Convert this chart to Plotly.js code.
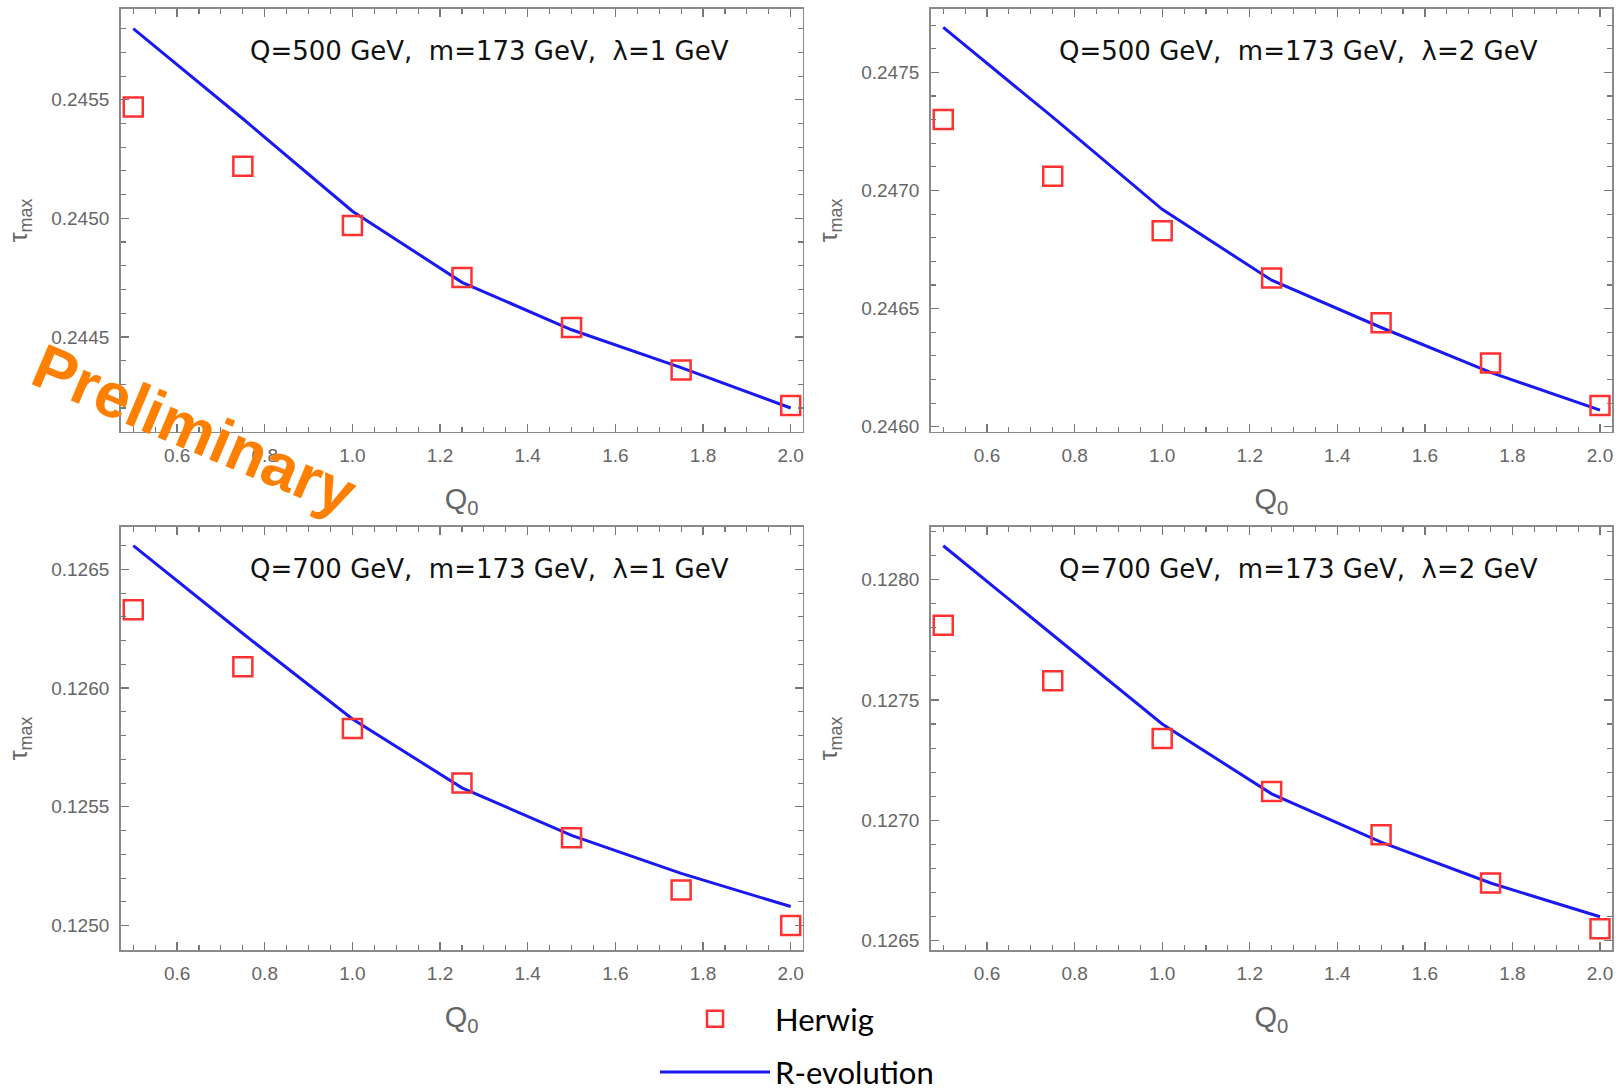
<!DOCTYPE html>
<html>
<head>
<meta charset="utf-8">
<script src="https://cdn.plot.ly/plotly-3.0.1.min.js"></script>
<style>html,body{margin:0;padding:0;background:#fff;}</style>
</head>
<body>
<div id="chart" style="width:1621px;height:1091px;"></div>
<script>
// ---- data ----
const q0 = [0.5, 0.75, 1.0, 1.25, 1.5, 1.75, 2.0];

const herwigQ500L1 = [0.24547, 0.24522, 0.24497, 0.24475, 0.24454, 0.24436, 0.24421];
const revolQ500L1  = [0.24580, 0.24542, 0.24503, 0.24473, 0.24453, 0.24437, 0.24420];

const herwigQ500L2 = [0.24730, 0.24706, 0.24683, 0.24663, 0.24644, 0.24627, 0.24609];
const revolQ500L2  = [0.24769, 0.24731, 0.24692, 0.24662, 0.24642, 0.24623, 0.24607];

const herwigQ700L1 = [0.12633, 0.12609, 0.12583, 0.12560, 0.12537, 0.12515, 0.12500];
const revolQ700L1  = [0.12660, 0.12623, 0.12587, 0.12558, 0.12538, 0.12522, 0.12508];

const herwigQ700L2 = [0.12781, 0.12758, 0.12734, 0.12712, 0.12694, 0.12674, 0.12655];
const revolQ700L2  = [0.12814, 0.12777, 0.12740, 0.12711, 0.12691, 0.12674, 0.12660];

const panelLabels = [
  "Q=500 GeV,\u00a0 m=173 GeV,\u00a0 \u03bb=1 GeV",
  "Q=500 GeV,\u00a0 m=173 GeV,\u00a0 \u03bb=2 GeV",
  "Q=700 GeV,\u00a0 m=173 GeV,\u00a0 \u03bb=1 GeV",
  "Q=700 GeV,\u00a0 m=173 GeV,\u00a0 \u03bb=2 GeV"
];
const seriesNames = ["Herwig", "R-evolution"];
const xTitle = "Q<sub>0</sub>";
const yTitle = "\u03c4<sub><span style=\"font-size:18px\">max</span></sub>";
const watermark = "Preliminary";

// ---- layout helpers ----
const W = 1621, H = 1091;
const herwigSets = [herwigQ500L1, herwigQ500L2, herwigQ700L1, herwigQ700L2];
const revolSets  = [revolQ500L1, revolQ500L2, revolQ700L1, revolQ700L2];
const yRanges = [[0.24410, 0.245883], [0.245979, 0.247768], [0.124897, 0.12668], [0.126462, 0.128219]];
const xDomains = [[120.7 / W, 802.7 / W], [930.7 / W, 1612 / W]];
const rowPx = [[9, 431.7], [526.7, 950]];
const yDomains = rowPx.map(r => [1 - r[1] / H, 1 - r[0] / H]);

const frameColor = '#8a8a8a';
const tickFont = {family: 'Liberation Sans, Arial, sans-serif', size: 19, color: '#666'};

const traces = [];
const layout = {
  width: W, height: H,
  margin: {l: 0, r: 0, t: 0, b: 0, autoexpand: false},
  paper_bgcolor: '#fff', plot_bgcolor: '#fff',
  showlegend: true,
  legend: {
    x: 655 / W, y: 1 - 992 / H, xanchor: 'left', yanchor: 'top',
    font: {family: 'Lato, sans-serif', size: 31, color: '#000'},
    itemwidth: 110, traceorder: 'grouped', tracegroupgap: 10,
    bgcolor: 'rgba(0,0,0,0)'
  },
  annotations: []
};

for (let i = 0; i < 4; i++) {
  const n = i === 0 ? '' : String(i + 1);
  const col = i % 2, row = Math.floor(i / 2);
  layout['xaxis' + n] = {
    domain: xDomains[col], anchor: 'y' + n,
    range: [0.4713, 2.0274], dtick: 0.2, tick0: 0, tickformat: '.1f',
    showgrid: false, zeroline: false, automargin: false,
    showline: true, linecolor: frameColor, linewidth: 1.6, mirror: 'allticks',
    ticks: 'inside', ticklen: 8, tickwidth: 1.3, tickcolor: '#777',
    minor: {dtick: 0.05, ticks: 'inside', ticklen: 5, tickwidth: 1.1, tickcolor: '#777', showgrid: false},
    tickfont: tickFont, ticklabelstandoff: 6,
    title: {text: xTitle, font: {family: 'Liberation Sans, Arial, sans-serif', size: 29, color: '#666'}, standoff: 23}
  };
  layout['yaxis' + n] = {
    domain: yDomains[row], anchor: 'x' + n,
    range: yRanges[i], dtick: 0.0005, tick0: 0, tickformat: '.4f',
    showgrid: false, zeroline: false, automargin: false,
    showline: true, linecolor: frameColor, linewidth: 1.6, mirror: 'allticks',
    ticks: 'inside', ticklen: 8, tickwidth: 1.3, tickcolor: '#777',
    minor: {dtick: 0.0001, ticks: 'inside', ticklen: 5, tickwidth: 1.1, tickcolor: '#777', showgrid: false},
    tickfont: tickFont, ticklabelstandoff: 6,
    title: {text: yTitle, font: {family: 'Liberation Sans, Arial, sans-serif', size: 25, color: '#666'}, standoff: 16}
  };

  traces.push({
    type: 'scatter', mode: 'lines', x: q0, y: revolSets[i],
    xaxis: 'x' + n, yaxis: 'y' + n,
    name: seriesNames[1], legendgroup: 'rev', legendrank: 2, showlegend: i === 0,
    line: {color: 'rgb(25,25,240)', width: 3}
  });
  traces.push({
    type: 'scatter', mode: 'markers', x: q0, y: herwigSets[i],
    xaxis: 'x' + n, yaxis: 'y' + n,
    name: seriesNames[0], legendgroup: 'her', legendrank: 1, showlegend: i === 0,
    marker: {symbol: 'square-open', size: 19, color: 'rgb(255,50,50)', line: {width: 2.5, color: 'rgb(255,50,50)'}}
  });

  const h = rowPx[row][1] - rowPx[row][0];
  layout.annotations.push({
    xref: 'x' + n + ' domain', yref: 'y' + n + ' domain',
    x: (489 - 120.7) / 682, y: 1 - 42.5 / h,
    xanchor: 'center', yanchor: 'middle', showarrow: false,
    text: panelLabels[i],
    font: {family: 'DejaVu Sans, sans-serif', size: 26, color: '#111'}
  });
}

layout.annotations.push({
  xref: 'paper', yref: 'paper', x: 194 / W, y: 1 - 429 / H,
  xanchor: 'center', yanchor: 'middle', showarrow: false,
  text: '<b>' + watermark + '</b>', textangle: 23,
  font: {family: 'Liberation Sans, Arial, sans-serif', size: 63, color: '#FF8000'}
});

Plotly.newPlot('chart', traces, layout, {displayModeBar: false, staticPlot: true});
</script>
</body>
</html>
